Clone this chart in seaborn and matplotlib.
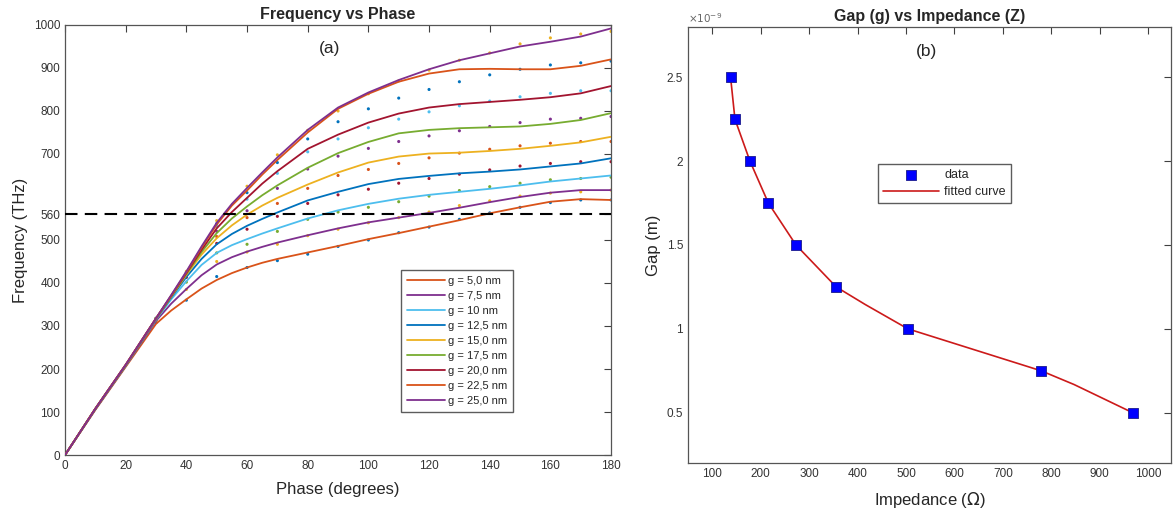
import numpy as np
import pandas as pd
import matplotlib
matplotlib.use("Agg")
import matplotlib.pyplot as plt
import seaborn as sns
from matplotlib.ticker import FuncFormatter

sns.set_style("white")
plt.rcParams['font.family'] = ['Liberation Sans', 'DejaVu Sans']

# ---------------- data: panel (a) ----------------
phase = [0, 10, 20, 30, 35, 40, 45, 50, 55, 60, 65, 70, 80, 90, 100, 110, 120, 130, 140, 150, 160, 170, 180]
gap_labels = ["g = 5,0 nm", "g = 7,5 nm", "g = 10 nm", "g = 12,5 nm", "g = 15,0 nm",
              "g = 17,5 nm", "g = 20,0 nm", "g = 22,5 nm", "g = 25,0 nm"]

f_g5 = [0, 105, 205, 305, 336, 362, 387, 407, 423, 436, 447, 456, 471, 486, 502, 516, 531, 546, 562, 576, 589, 595, 593]
f_g7 = [0, 106, 207, 312, 352, 386, 418, 443, 460, 473, 484, 494, 511, 527, 541, 552, 563, 575, 588, 600, 610, 616, 616]
f_g10 = [0, 107, 208, 315, 362, 404, 442, 470, 488, 502, 515, 527, 550, 569, 584, 596, 605, 612, 619, 627, 636, 643, 650]
f_g12 = [0, 107, 208, 316, 366, 414, 456, 490, 514, 533, 549, 564, 592, 612, 630, 642, 649, 655, 659, 664, 671, 678, 690]
f_g15 = [0, 108, 209, 317, 368, 419, 466, 504, 534, 559, 580, 598, 629, 657, 680, 694, 701, 703, 707, 712, 719, 727, 740]
f_g17 = [0, 108, 209, 317, 369, 421, 472, 516, 550, 578, 604, 627, 668, 702, 728, 748, 756, 760, 762, 764, 770, 779, 795]
f_g20 = [0, 108, 210, 318, 370, 423, 477, 527, 565, 598, 631, 660, 712, 745, 773, 794, 808, 816, 821, 826, 832, 841, 858]
f_g22 = [0, 108, 210, 318, 371, 425, 482, 536, 580, 615, 652, 686, 750, 805, 840, 868, 887, 897, 898, 897, 897, 905, 920]
f_g25 = [0, 108, 210, 318, 372, 427, 485, 540, 584, 621, 657, 692, 756, 808, 843, 872, 897, 918, 934, 950, 961, 973, 992]

# simulated points (small dots)
dot_phase = [30, 40, 50, 60, 70, 80, 90, 100, 110, 120, 130, 140, 150, 160, 170, 180]
d_g5 = [308, 360, 415, 436, 452, 467, 485, 500, 517, 530, 548, 563, 576, 587, 593, 593]
d_g7 = [312, 385, 450, 472, 490, 510, 525, 540, 552, 565, 580, 591, 602, 609, 612, 616]
d_g10 = [314, 402, 470, 490, 520, 548, 565, 576, 589, 602, 615, 624, 632, 640, 643, 646]
d_g12 = [316, 413, 492, 525, 555, 585, 605, 618, 632, 643, 653, 663, 672, 678, 682, 682]
d_g15 = [317, 418, 508, 552, 585, 620, 650, 664, 678, 691, 702, 711, 719, 725, 729, 729]
d_g17 = [317, 421, 520, 568, 620, 665, 695, 713, 729, 742, 754, 764, 773, 781, 783, 787]
d_g20 = [318, 424, 532, 595, 655, 705, 735, 761, 781, 798, 812, 823, 833, 841, 847, 847]
d_g22 = [318, 425, 538, 610, 680, 735, 775, 805, 830, 850, 868, 884, 897, 907, 912, 916]
d_g25 = [318, 427, 545, 625, 698, 755, 800, 840, 870, 895, 918, 935, 956, 970, 979, 985]

f_cut = 560
freq_ticks = [0, 100, 200, 300, 400, 500, 560, 700, 800, 900, 1000]

# ---------------- data: panel (b) ----------------
impedance = [138, 147, 178, 216, 273, 356, 504, 779, 968]
gap_m = [2.5e-9, 2.25e-9, 2.0e-9, 1.75e-9, 1.5e-9, 1.25e-9, 1.0e-9, 0.75e-9, 0.5e-9]
fit_z = [138, 147, 178, 216, 273, 356, 416, 504, 779, 847, 968]
fit_g = [2.5e-9, 2.25e-9, 2.0e-9, 1.75e-9, 1.5e-9, 1.25e-9, 1.145e-9, 1.0e-9, 0.75e-9, 0.668e-9, 0.5e-9]

# MATLAB default colours
m_blue = (0.0, 0.447, 0.741)
m_orange = (0.850, 0.325, 0.098)
m_yellow = (0.929, 0.694, 0.125)
m_purple = (0.494, 0.184, 0.556)
m_green = (0.466, 0.674, 0.188)
m_lblue = (0.301, 0.745, 0.933)
m_dred = (0.635, 0.078, 0.184)

line_colors = [m_orange, m_purple, m_lblue, m_blue, m_yellow, m_green, m_dred, m_orange, m_purple]
dot_colors = [m_blue, m_yellow, m_green, m_dred, m_orange, m_purple, m_lblue, m_blue, m_yellow]

curves = [f_g5, f_g7, f_g10, f_g12, f_g15, f_g17, f_g20, f_g22, f_g25]
dots = [d_g5, d_g7, d_g10, d_g12, d_g15, d_g17, d_g20, d_g22, d_g25]

df_lines = pd.concat([pd.DataFrame({"Phase": phase, "Freq": c, "g": lab})
                      for c, lab in zip(curves, gap_labels)], ignore_index=True)
df_dots = pd.concat([pd.DataFrame({"Phase": dot_phase, "Freq": d, "g": lab})
                     for d, lab in zip(dots, gap_labels)], ignore_index=True)

fig = plt.figure(figsize=(11.76, 5.16), dpi=100)
ax1 = fig.add_axes([0.0553, 0.1182, 0.4643, 0.8334])
ax2 = fig.add_axes([0.585, 0.1027, 0.4107, 0.8450])

tick_col = "#404040"

# ---------------- panel (a) ----------------
sns.scatterplot(data=df_dots, x="Phase", y="Freq", hue="g", palette=dot_colors,
                s=5, linewidth=0, legend=False, ax=ax1, zorder=2)
sns.lineplot(data=df_lines, x="Phase", y="Freq", hue="g", palette=line_colors,
             linewidth=1.3, ax=ax1, zorder=3)
ax1.axhline(f_cut, color="black", linestyle=(0, (6, 3.5)), linewidth=1.5, zorder=4)
ax1.set_xlim(0, 180)
ax1.set_ylim(0, 1000)
ax1.set_xticks(range(0, 181, 20))
ax1.set_yticks(freq_ticks)
ax1.set_xlabel("Phase (degrees)", fontsize=12, labelpad=7)
ax1.set_ylabel("Frequency (THz)", fontsize=12)
ax1.set_title("Frequency vs Phase", fontsize=11.5, weight="bold", pad=4)
ax1.text(0.485, 0.945, "(a)", transform=ax1.transAxes, ha="center", va="center", fontsize=12.5)
leg = ax1.legend(loc="upper left", bbox_to_anchor=(0.606, 0.442), fontsize=8, frameon=True,
                 fancybox=False, edgecolor="#333333", handlelength=3.4, handletextpad=0.3,
                 labelspacing=0.45, borderpad=0.5, title=None)
leg.get_frame().set_linewidth(1.0)

# ---------------- panel (b) ----------------
sns.lineplot(x=fit_z, y=fit_g, color=(0.80, 0.10, 0.10), linewidth=1.2, ax=ax2,
             label="fitted curve", sort=False, zorder=2)
sns.scatterplot(x=impedance, y=gap_m, marker="s", s=42, color=(0.0, 0.0, 1.0),
                edgecolor=(0.1, 0.1, 0.55), linewidth=0.6, ax=ax2, label="data", zorder=3)
ax2.set_xlim(50, 1047)
ax2.set_ylim(0.2e-9, 2.8e-9)
ax2.set_xticks(range(100, 1001, 100))
ax2.set_yticks([0.5e-9, 1.0e-9, 1.5e-9, 2.0e-9, 2.5e-9])
ax2.yaxis.set_major_formatter(FuncFormatter(lambda v, _: f"{v * 1e9:g}"))
ax2.set_xlabel("Impedance ($\\Omega$)", fontsize=12, labelpad=7)
ax2.set_ylabel("Gap (m)", fontsize=12)
ax2.set_title("Gap (g) vs Impedance (Z)", fontsize=11.5, weight="bold", pad=4)
ax2.text(0.0, 1.005, "$\\times10^{-9}$", transform=ax2.transAxes, ha="left", va="bottom",
         fontsize=7.5, color="#666666")
ax2.text(0.493, 0.943, "(b)", transform=ax2.transAxes, ha="center", va="center", fontsize=12.5)
handles, labels = ax2.get_legend_handles_labels()
order = [labels.index("data"), labels.index("fitted curve")]
leg2 = ax2.legend([handles[i] for i in order], [labels[i] for i in order],
                  loc="upper left", bbox_to_anchor=(0.381, 0.70), fontsize=9, frameon=True,
                  fancybox=False, edgecolor="#333333", handlelength=4.5, handletextpad=0.4,
                  borderpad=0.4, labelspacing=0.4)
leg2.get_frame().set_linewidth(1.0)

for ax in (ax1, ax2):
    ax.tick_params(direction="in", length=5, width=0.8, colors=tick_col, labelsize=8.5,
                   top=True, right=True, labelcolor="#333333")
    for sp in ax.spines.values():
        sp.set_color("#555555")
        sp.set_linewidth(0.9)
    ax.grid(False)

fig.savefig("out.png", dpi=100)
